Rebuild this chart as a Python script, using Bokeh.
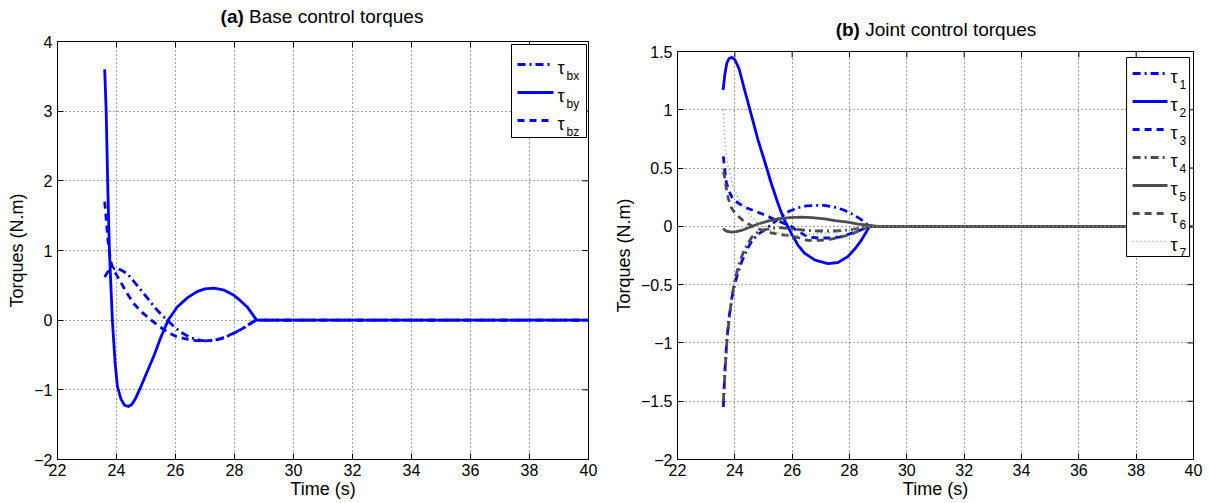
import math
from bokeh.plotting import figure
from bokeh.models import FixedTicker, Div
from bokeh.core.properties import value
from bokeh.layouts import row, column
from bokeh.embed import file_html
from bokeh.resources import INLINE

# ---------------- data ----------------
x_ticks = [22, 24, 26, 28, 30, 32, 34, 36, 38, 40]
ya_ticks = [-2, -1, 0, 1, 2, 3, 4]
ya_labels = ["−2", "−1", "0", "1", "2", "3", "4"]
yb_ticks = [-2, -1.5, -1, -0.5, 0, 0.5, 1, 1.5]
yb_labels = ["−2", "−1.5", "−1", "−0.5", "0", "0.5", "1", "1.5"]

# (a) base control torques
t_bx = [23.6, 23.7, 23.85, 23.97, 24.15, 24.36, 24.6, 24.87, 25.1, 25.32, 25.52, 25.72, 25.95,
        26.17, 26.5, 26.85, 27.1, 27.3, 27.6, 27.97, 28.35, 28.72, 30, 40]
tau_bx = [0.62, 0.69, 0.73, 0.75, 0.72, 0.67, 0.55, 0.41, 0.29, 0.17, 0.08, 0.0, -0.09,
          -0.17, -0.25, -0.29, -0.30, -0.29, -0.26, -0.19, -0.10, 0.0, 0.0, 0.0]
t_by = [23.6, 23.65, 23.7, 23.76, 23.86, 23.95, 24.03, 24.15, 24.27, 24.4, 24.52, 24.65, 24.8,
        25.0, 25.28, 25.5, 25.75, 26.06, 26.4, 26.73, 27.0, 27.3, 27.65, 27.97, 28.2, 28.43,
        28.6, 28.75, 30, 40]
tau_by = [3.6, 3.0, 2.0, 1.0, 0.0, -0.6, -0.95, -1.13, -1.22, -1.24, -1.21, -1.12, -0.98,
          -0.78, -0.5, -0.25, 0.0, 0.19, 0.32, 0.41, 0.45, 0.46, 0.43, 0.36, 0.28, 0.19,
          0.09, 0.0, 0.0, 0.0]
t_bz = [23.6, 23.63, 23.67, 23.71, 23.76, 23.82, 23.9, 24.0, 24.14, 24.35, 24.58, 24.85, 25.09,
        25.3, 25.55, 25.8, 26.06, 26.35, 26.6, 26.9, 27.2, 27.5, 27.8, 28.1, 28.4, 28.72, 30, 40]
tau_bz = [1.7, 1.55, 1.35, 1.15, 0.97, 0.82, 0.72, 0.65, 0.55, 0.39, 0.24, 0.12, 0.03,
          -0.04, -0.12, -0.19, -0.24, -0.27, -0.29, -0.30, -0.29, -0.27, -0.22, -0.16, -0.09,
          0.0, 0.0, 0.0]

# (b) joint control torques
t_1 = [23.6, 23.65, 23.72, 23.8, 23.9, 24.0, 24.12, 24.23, 24.4, 24.58, 24.8, 25.04, 25.3, 25.6,
       25.9, 26.2, 26.5, 26.8, 27.1, 27.48, 27.8, 28.06, 28.4, 28.7, 30, 40]
tau_1 = [-1.55, -1.25, -0.98, -0.78, -0.61, -0.49, -0.39, -0.31, -0.21, -0.13, -0.07, -0.03,
         0.02, 0.08, 0.13, 0.16, 0.175, 0.18, 0.18, 0.165, 0.14, 0.11, 0.06, 0.0, 0.0, 0.0]
t_2 = [23.59, 23.65, 23.72, 23.8, 23.9, 24.0, 24.15, 24.34, 24.57, 24.81, 25.05, 25.27, 25.5,
       25.68, 25.97, 26.2, 26.43, 26.8, 27.25, 27.6, 27.94, 28.2, 28.41, 28.58, 28.7, 30, 40]
tau_2 = [1.17, 1.3, 1.4, 1.44, 1.45, 1.43, 1.35, 1.17, 0.96, 0.74, 0.55, 0.37, 0.2,
         0.08, -0.06, -0.16, -0.23, -0.29, -0.32, -0.31, -0.26, -0.19, -0.12, -0.05, 0.0, 0.0, 0.0]
t_3 = [23.6, 23.64, 23.7, 23.8, 23.9, 24.0, 24.34, 24.92, 25.3, 25.62, 25.97, 26.25, 26.55,
       26.9, 27.36, 27.7, 28.06, 28.4, 28.7, 30, 40]
tau_3 = [0.6, 0.5, 0.38, 0.3, 0.25, 0.22, 0.165, 0.11, 0.07, 0.036, 0.0, -0.05, -0.09,
         -0.1, -0.1, -0.09, -0.06, -0.03, 0.0, 0.0, 0.0]
t_4 = [23.6, 23.66, 23.72, 23.8, 23.9, 24.0, 24.15, 24.3, 24.45, 24.6, 24.8, 25.0, 25.5, 26.0,
       26.5, 27.0, 27.5, 28.0, 28.4, 28.7, 30, 40]
tau_4 = [-1.5, -1.24, -1.0, -0.8, -0.6, -0.46, -0.32, -0.22, -0.15, -0.09, -0.05, -0.03, -0.01,
         -0.02, -0.035, -0.04, -0.04, -0.03, -0.015, 0.0, 0.0, 0.0]
t_5 = [23.59, 23.7, 23.88, 24.05, 24.23, 24.5, 24.81, 25.15, 25.5, 25.9, 26.32, 26.7, 27.13,
       27.5, 27.94, 28.3, 28.64, 29.0, 30, 40]
tau_5 = [-0.02, -0.04, -0.05, -0.045, -0.035, -0.01, 0.02, 0.045, 0.065, 0.075, 0.08, 0.075,
         0.065, 0.05, 0.036, 0.02, 0.01, 0.0, 0.0, 0.0]
t_6 = [23.6, 23.65, 23.7, 23.77, 23.88, 23.99, 24.15, 24.33, 24.7, 25.16, 25.55, 25.97, 26.25,
       26.55, 27.0, 27.36, 27.7, 28.06, 28.4, 28.7, 30, 40]
tau_6 = [0.47, 0.42, 0.33, 0.24, 0.16, 0.12, 0.08, 0.04, -0.01, -0.05, -0.07, -0.08, -0.1,
         -0.12, -0.12, -0.11, -0.09, -0.07, -0.03, 0.0, 0.0, 0.0]
t_7 = [23.6, 23.65, 23.7, 23.77, 23.88, 24.0, 24.15, 24.34, 24.55, 24.8, 25.05, 25.3, 25.7,
       26.0, 26.5, 27.0, 27.5, 28.0, 28.4, 28.7, 30, 40]
tau_7 = [1.0, 0.74, 0.6, 0.51, 0.4, 0.31, 0.23, 0.165, 0.09, 0.03, -0.01, -0.04, -0.07,
         -0.08, -0.07, -0.06, -0.05, -0.03, -0.015, 0.0, 0.0, 0.0]

legend_symbol = "τ"
subs_a = ["bx", "by", "bz"]
subs_b = ["1", "2", "3", "4", "5", "6", "7"]

# ---------------- styling ----------------
FONT = "Liberation Sans"
BLUE = "#0000ff"
GREY = "#4d4d4d"
LGREY = "#9a9a9a"
DASH = "7 5"
DASHDOT = "8 4 2 4"
DOT = "1 3"
LW = 2.8


def make_fig(width, height, yr, bl, br, bt, bb, yticks, ylabels):
    p = figure(width=width, height=height, x_range=(22, 40), y_range=yr,
               output_backend="svg", toolbar_location=None,
               min_border_left=bl, min_border_right=br, min_border_top=bt,
               min_border_bottom=bb)
    try:
        p.frame_align = False
    except Exception:
        pass
    p.background_fill_color = "white"
    p.border_fill_color = "white"
    p.outline_line_color = "black"
    p.outline_line_width = 1
    for ax, ticks, labels in ((p.xaxis[0], x_ticks, [str(v) for v in x_ticks]),
                              (p.yaxis[0], yticks, ylabels)):
        ax.ticker = FixedTicker(ticks=ticks)
        ax.major_label_overrides = {k: s for k, s in zip(ticks, labels)}
        ax.major_tick_in = 6
        ax.major_tick_out = 0
        ax.minor_tick_line_color = None
        ax.axis_line_color = "black"
        ax.major_tick_line_color = "black"
        ax.major_label_text_font = FONT
        ax.major_label_text_font_size = "16px"
        ax.major_label_text_color = "black"
        ax.axis_label_text_font = FONT
        ax.axis_label_text_font_size = "18px"
        ax.axis_label_text_font_style = "normal"
        ax.axis_label_text_color = "black"
    p.xaxis.major_label_standoff = 4
    p.xaxis.axis_label_standoff = 0
    p.yaxis.major_label_standoff = 5
    p.yaxis.axis_label_standoff = 4
    p.xaxis.axis_label = "Time (s)"
    p.yaxis.axis_label = "Torques (N.m)"
    p.xgrid.ticker = FixedTicker(ticks=x_ticks)
    p.ygrid.ticker = FixedTicker(ticks=yticks)
    for g in (p.xgrid, p.ygrid):
        g.grid_line_color = "black"
        g.grid_line_alpha = 0.75
        g.grid_line_dash = "1 3"
        g.grid_line_width = 1
    # inward ticks on the top and right edges of the box
    p.scatter(x_ticks, [yr[1]] * len(x_ticks), marker="dash", angle=math.pi / 2, size=12,
              line_color="black", line_width=1)
    p.scatter([40] * len(yticks), yticks, marker="dash", size=12,
              line_color="black", line_width=1)
    return p


def px2data(p, fx, fy, fw, fh):
    x0, x1 = p.x_range.start, p.x_range.end
    y0, y1 = p.y_range.start, p.y_range.end
    return x0 + fx / fw * (x1 - x0), y1 - fy / fh * (y1 - y0)


def title_div(width, height, pad_top, center_x, bold, rest):
    inner_w = 2 * center_x
    html = (f'<div style="font-family: \'{FONT}\'; font-size: 19px; line-height: 22px; '
            f'color: black; text-align: center; margin-top: {pad_top}px; '
            f'width: {inner_w}px; white-space: nowrap;">'
            f'<b>{bold}</b> {rest}</div>')
    return Div(text=html, width=width, height=height, margin=0)


def draw_legend(p, styles, subs, fw, fh, box, gx0, gx1, y0, tau_x, sub_x):
    """Legend box with line samples, tau symbols and subscripts (layout in frame pixels)."""
    left, right, top, bottom = box
    cx, cy = px2data(p, (left + right) / 2, (top + bottom) / 2, fw, fh)
    p.rect(x=[cx], y=[cy], width=right - left, height=bottom - top, width_units="screen",
           height_units="screen", fill_color="white", line_color="black", line_width=1)
    tx, ty, sx, sy = [], [], [], []
    for i, (color, width, dash) in enumerate(styles):
        yc = y0 + 28 * i
        xa, ya = px2data(p, gx0, yc, fw, fh)
        xb, _ = px2data(p, gx1, yc, fw, fh)
        p.line([xa, xb], [ya, ya], line_color=color, line_width=width, line_dash=dash)
        x, y = px2data(p, tau_x, yc + 3, fw, fh)
        tx.append(x)
        ty.append(y)
        x, y = px2data(p, sub_x, yc + 11, fw, fh)
        sx.append(x)
        sy.append(y)
    p.text(x=tx, y=ty, text=[legend_symbol] * len(subs), text_font=value(FONT),
           text_font_size=value("18px"), text_align="left", text_baseline="alphabetic",
           text_color="black")
    p.text(x=sx, y=sy, text=subs, text_font=value(FONT), text_font_size=value("12px"),
           text_align="left", text_baseline="alphabetic", text_color="black")


# ---------------- (a) ----------------
FW_A, FH_A = 531, 418
pa = make_fig(610, 469, (-2, 4), 57, 22, 7, 44, ya_ticks, ya_labels)
styles_a = [(BLUE, LW, DASHDOT), (BLUE, LW, "solid"), (BLUE, LW, DASH)]
for (c, w, d), t, v in zip(styles_a, (t_bx, t_by, t_bz), (tau_bx, tau_by, tau_bz)):
    pa.line(t, v, line_color=c, line_width=w, line_dash=d, line_join="round")
draw_legend(pa, styles_a, subs_a, FW_A, FH_A, box=(454, 529, 3, 96), gx0=460, gx1=496,
            y0=23, tau_x=500, sub_x=509)
ta = title_div(610, 34, 6, 322, "(a)", "Base control torques")

# ---------------- (b) ----------------
FW_B, FH_B = 517, 408
pb = make_fig(600, 462, (-2, 1.5), 66, 17, 10, 44, yb_ticks, yb_labels)
styles_b = [(BLUE, LW, DASHDOT), (BLUE, LW, "solid"), (BLUE, LW, DASH),
            (GREY, LW, DASHDOT), (GREY, LW, "solid"), (GREY, LW, DASH), (LGREY, 1.6, DOT)]
series_b = [(t_1, tau_1), (t_2, tau_2), (t_3, tau_3), (t_4, tau_4), (t_5, tau_5),
            (t_6, tau_6), (t_7, tau_7)]
for (c, w, d), (t, v) in zip(styles_b, series_b):
    pb.line(t, v, line_color=c, line_width=w, line_dash=d, line_join="round")
draw_legend(pb, styles_b, subs_b, FW_B, FH_B, box=(450, 513, 6, 205), gx0=456, gx1=491,
            y0=22, tau_x=494, sub_x=503)
tb = title_div(600, 41, 19, 326, "(b)", "Joint control torques")

layout = row(column(ta, pa, spacing=0), column(tb, pb, spacing=0), spacing=0)
open("out.html", "w").write(file_html(layout, INLINE))
